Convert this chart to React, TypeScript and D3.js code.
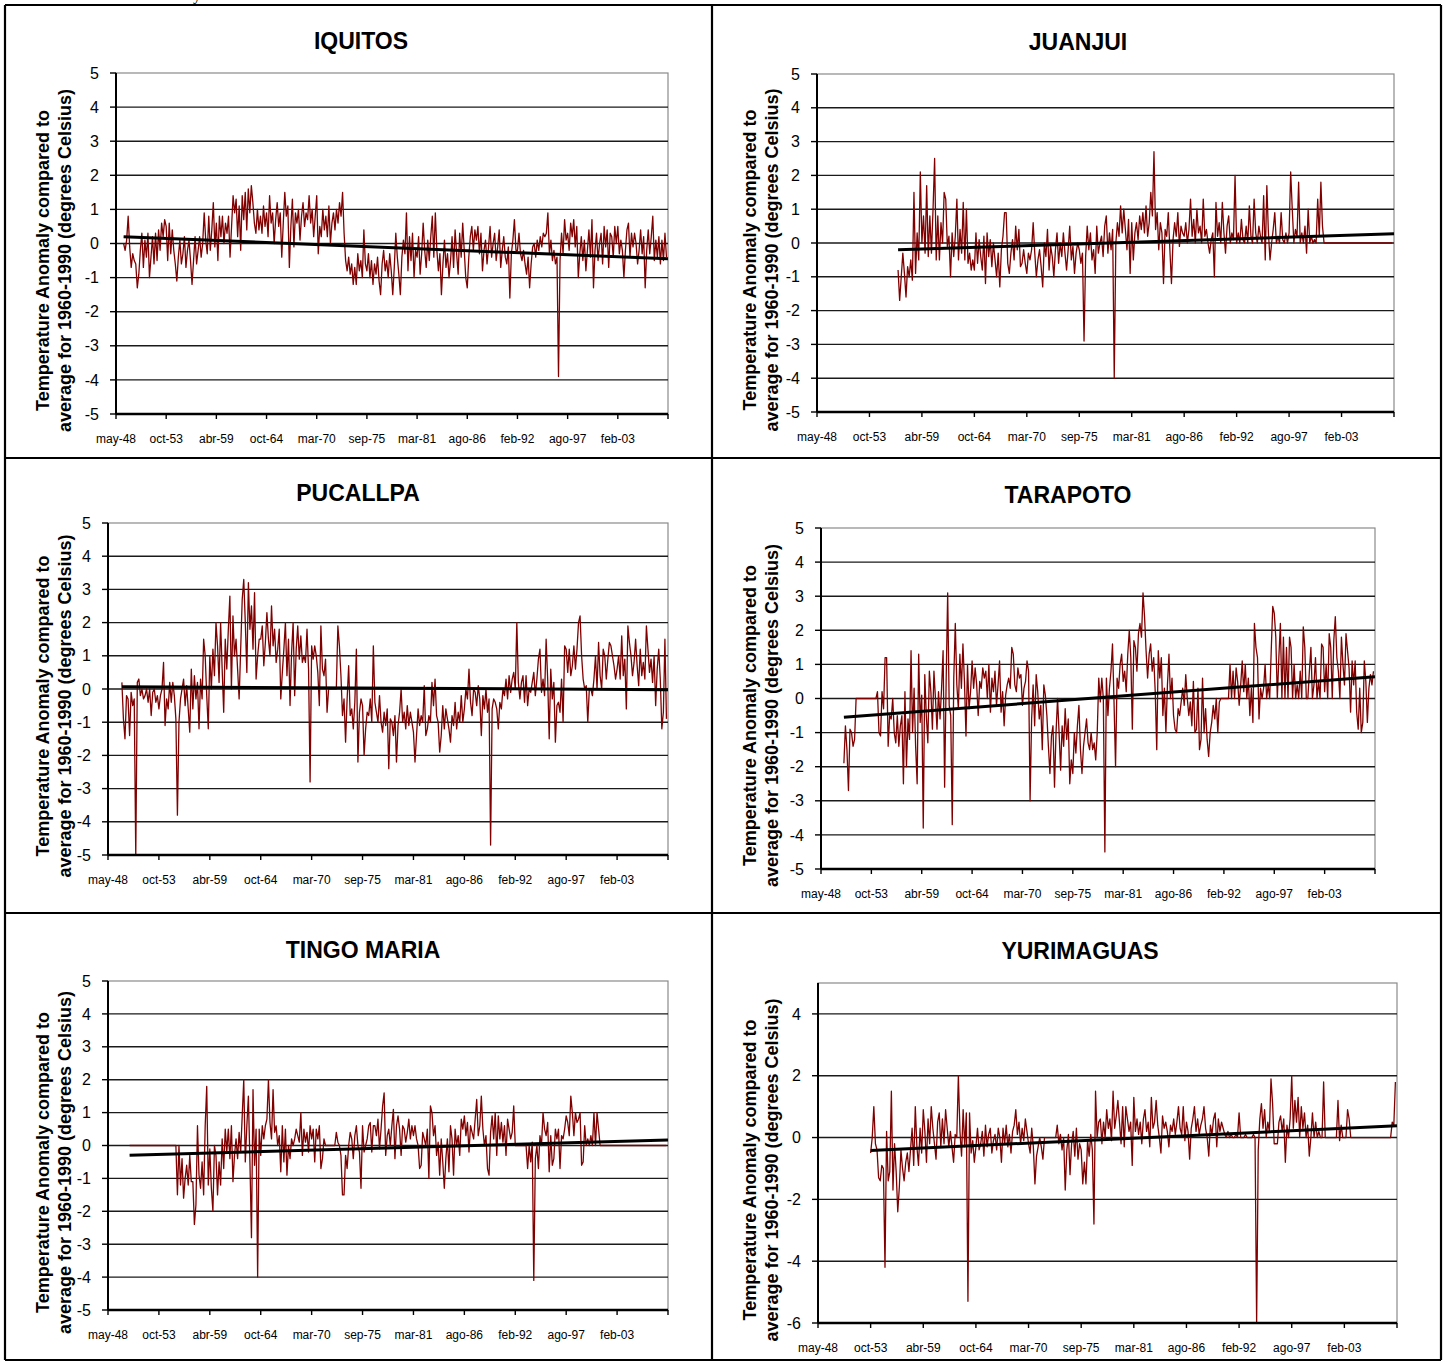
import React from "react";
import * as d3 from "d3";

// category axis: one tick every 66 monthly categories, 11 intervals
const xTickLabels = ["may-48", "oct-53", "abr-59", "oct-64", "mar-70", "sep-75", "mar-81", "ago-86", "feb-92", "ago-97", "feb-03"];
const MONTHS_PER_TICK = 66;
const TOTAL_MONTHS = 726;
const STEP = 2; // values read every second month

const yTicksFull = [-5, -4, -3, -2, -1, 0, 1, 2, 3, 4, 5];
const yTicksYuri = [-6, -4, -2, 0, 2, 4];

// IQUITOS
const iquitosStart = 10;
const iquitosValues = [
  0.0, -0.2, 0.1, 0.8, -0.1, -0.7, -0.3, -0.5, -0.6, -1.3, -0.9, -0.2, 0.3, -0.7, 0.1, -0.4, 0.3, -1.0, -0.4, 0.2, -0.6, 0.3, -0.5, 0.4, -0.2, 0.6, 0.2, 0.7,
  0.5, -0.5, 0.6, -0.3, 0.4, -0.2, -0.6, -1.1, -0.4, 0.1, -0.6, -0.3, 0.2, -0.7, -0.2, 0.1, -0.5, -1.2, -0.5, 0.2, -0.6, -0.2, 0.2, -0.4, 0.0, 0.9, 0.1, -0.3, 0.8, -0.2, 0.4, 1.2, -0.1,
  0.6, -0.5, 0.8, 0.2, 0.8, 0.0, 0.6, 0.3, 0.8, -0.4, 0.5, 1.4, 0.9, 1.3, 0.2, 1.1, -0.2, 1.4, 0.7, 1.5, 0.4, 1.6, 0.9, 1.7, 1.2, 0.6, 0.3, 1.0, 0.4, 0.8, 0.3, 1.1, 0.5,
  0.9, 0.2, 1.4, 0.6, 0.9, 0.0, 0.7, 1.2, 0.5, 0.9, -0.4, 0.6, 1.5, 0.8, 1.1, -0.7, 0.5, 1.3, -0.1, 0.9, 0.6, 1.0, 0.1, 0.8, 1.2, 0.5, 0.9, 0.7, 1.4, 0.6, 1.0, 0.2, 0.8,
  1.4, -0.3, 0.5, 0.2, 1.0, 0.4, 0.8, 0.2, 1.1, 0.0, 0.6, 0.9, 0.4, 1.0, 0.6, 1.2, 0.8, 1.5, 0.3, -0.5, -0.8, -0.4, -0.9, -0.6, -1.2, -0.7, -1.2, -0.3, -0.8, -0.5, -1.0, 0.4, -0.6,
  -0.8, -0.3, -1.0, -0.5, -1.2, -0.6, -0.9, -0.4, -1.1, -1.5, -0.6, -0.2, -0.8, -0.5, -1.0, -0.3, -0.8, -1.5, -0.7, 0.3, -0.4, -0.9, -1.5, -0.4, 0.1, -0.3, 0.9, -0.8, 0.2, -0.5, 0.3, -1.0, -0.2,
  -0.4, 0.2, -0.9, -0.3, 0.6, -0.2, -0.7, 0.1, -0.5, 0.2, 0.8, -0.4, 0.9, -0.2, -0.8, -0.3, -1.5, -0.6, 0.1, -0.7, -0.3, -1.0, -0.5, 0.2, -0.7, 0.4, -0.3, -0.9, 0.3, -0.4, 0.6, -0.2, -1.0,
  -1.3, -0.4, 0.2, 0.5, -0.2, 0.4, 0.1, 0.5, -0.3, 0.3, -0.8, -0.2, 0.1, -0.6, -0.1, 0.5, -0.4, 0.0, 0.3, -0.5, -0.1, 0.4, -0.7, -0.2, 0.2, -0.4, -0.6, -0.1, -1.6, -0.3, 0.1, 0.7, -0.2,
  -0.2, 0.3, -0.3, -0.5, -0.2, -0.6, -0.9, -0.4, -1.3, -0.6, -0.1, 0.0, -0.4, 0.1, -0.2, 0.2, -0.1, 0.3, 0.2, 0.3, 0.9, -0.3, 0.1, -0.5, -0.2, -0.6, -0.4, -3.9, -0.5, 0.3, -0.3, 0.7, 0.1,
  0.3, -0.2, 0.6, 0.2, 0.7, -0.1, 0.5, -1.0, -0.3, 0.2, -0.5, 0.1, -0.8, -0.2, 0.4, -0.4, 0.7, -1.3, -0.2, 0.3, -0.5, 0.0, 0.3, -0.6, 0.5, -0.1, 0.4, -0.7, 0.3, 0.2, -0.4, 0.5, 0.0,
  0.5, -0.3, 0.1, -0.2, -1.0, -0.2, 0.4, 0.6, -0.4, 0.3, -0.1, 0.3, 0.0, -0.6, -0.2, 0.4, -0.3, 0.2, -1.3, -0.2, 0.4, -0.3, 0.2, 0.8, -0.5, 0.1, -0.4, 0.2, -0.6, 0.1, -0.5, 0.3, -0.4,
];
const iquitosTrend = [0.2, -0.45];

// JUANJUI
const juanjuiStart = 102;
const juanjuiValues = [
  -0.8, -1.7, -1.0, -0.3, -0.9, -1.6, -0.7, -1.0, -0.5, -1.1, 1.5, -0.9, 0.3, -0.5, 2.1,
  0.0, 0.8, -0.3, 1.7, -0.4, 0.8, -0.3, 1.0, 2.5, -0.5, 0.8, -0.5, 0.6, 0.0, 1.5, 1.3, -0.1, 0.2, -1.0, 0.3, -0.4, 0.2, 1.3, -0.5, 0.4, -0.3, 1.2, -0.5, 1.0, -0.6, -0.3, -0.8, -0.5,
  -0.8, 0.3, -0.6, 0.1, -0.4, -0.8, 0.2, -1.2, 0.3, -0.4, 0.1, -0.7, 0.0, -0.5, -1.0, -0.3, -1.3, -0.2, 0.2, 0.9, 0.9, -0.6, -0.9, -0.3, 0.1, -0.5, 0.5, -0.2, 0.4, -0.7, -0.6, -0.2, -0.6,
  -0.9, -0.3, -0.5, -0.2, 0.6, -0.3, -1.0, -0.5, -0.2, -0.7, -1.3, 0.0, -0.4, 0.4, -0.8, -0.1, -0.4, -1.0, -0.2, 0.3, -0.6, 0.0, -0.4, 0.3, -0.3, -0.8, -0.2, 0.5, -0.5, -0.1, -0.9, -0.3, 0.0,
  -0.2, -0.6, -0.3, -2.9, -0.4, 0.5, -0.2, 0.3, -0.5, -0.2, -0.9, 0.5, -0.3, 0.0, 0.2, -0.4, 0.5, 0.8, -0.3, 0.3, -0.2, 0.4, -4.0, 0.0, 0.6, 0.2, 1.1, 0.3, 1.0, 0.4, -0.2, 0.7, -0.9,
  0.6, -0.5, 0.3, 0.6, 0.1, 0.8, 0.4, 0.9, 0.3, 1.1, 0.2, 0.6, 1.5, 0.8, 2.7, 0.4, 0.9, -0.2, 0.6, 0.3, -1.2, 0.4, 0.2, 0.9, -0.2, -1.2, 0.1, 0.6, 0.2, 0.9, -0.1, 0.5, 0.3,
  0.2, 0.6, 0.0, 0.4, 1.3, 0.2, 0.7, 0.0, 1.0, 0.3, 0.5, 0.0, 1.3, 0.2, 0.4, 0.0, -0.3, 0.1, 0.3, -1.0, 1.2, 0.2, 0.6, 0.0, 1.2, 0.3, -0.3, 0.5, 0.8, 0.0, 0.3, 0.1, 2.0,
  0.0, 0.3, 0.0, 0.7, 0.1, 0.0, 0.5, 0.0, 1.1, 0.2, 0.0, 1.3, 0.3, 0.0, 0.5, 0.2, 0.0, 1.4, -0.5, 1.7, 0.3, -0.5, 0.0, 0.4, 0.9, 0.0, 0.2, 0.0, 0.9, 0.1, 0.0, 0.3, 0.0,
  0.3, 2.1, 1.0, 0.0, 0.4, 0.2, 1.8, 0.0, 0.3, 0.0, 0.5, -0.3, 1.0, 0.0, 0.2, 0.0, 0.1, 0.0, 1.3, 0.2, 1.8, 0.5, 0.0, 0, 0, 0, 0, 0, 0, 0, 0, 0, 0,
  0, 0, 0, 0, 0, 0, 0, 0, 0, 0, 0, 0, 0, 0, 0, 0, 0, 0, 0, 0, 0, 0, 0, 0, 0, 0, 0, 0, 0, 0, 0, 0, 0,
];
const juanjuiTrend = [-0.2, 0.27];

// PUCALLPA
const pucallpaStart = 18;
const pucallpaValues = [
  0.2, -0.9, -1.5, -0.2, -0.3, -1.4, -0.1, -0.5, -0.3, -5.0, 0.2, 0.3, -0.2, 0.0, -0.3, -0.2, 0.0, -0.4, 0.0, -0.8, -0.1, 0.0, -0.4, -0.2,
  -0.6, -0.2, 0.0, 0.8, -1.1, -0.3, -0.6, 0.2, -0.4, 0.2, -0.2, -0.9, -3.8, -1.0, -0.3, 0.0, 0.3, -0.5, 0.1, -0.6, -1.3, 0.6, -0.6, 0.4, -0.3, 0.2, -1.2, 0.3, -0.3, 1.5, 1.0, -0.2, -1.2,
  1.0, 0.0, 1.2, 0.4, 2.0, 1.3, 0.2, 2.0, 0.6, -0.7, 1.5, 0.6, 1.8, 2.8, 0.0, 2.2, 1.0, 1.5, 0.6, -0.3, 1.2, 2.7, 3.3, 2.0, 0.5, 3.2, 1.8, 2.5, 1.2, 2.9, 0.3, 1.0, 1.5,
  1.5, 1.9, 0.7, 1.4, 2.3, 1.5, 1.0, 2.5, 1.3, 1.8, 0.8, 1.2, 1.8, -0.3, 0.5, 1.2, 2.0, 0.4, 1.5, -0.5, 1.1, 2.0, -0.2, 1.2, 1.9, 0.9, 1.6, 0.8, 1.0, 0.8, 1.8, 0.6, -2.8,
  1.3, 0.9, 1.3, 1.0, 0.5, -0.5, 1.9, 0.6, 0.4, 0.9, -0.7, 0.0, 0.0, 0.0, 0.0, 0.0, 0.0, 1.9, 1.3, 0.4, -0.8, -0.3, -1.6, -0.3, 0.7, -0.8, -0.6, -1.2, -0.4, 1.2, -2.2, -0.7, -0.3,
  -0.5, -2.0, -1.2, -0.7, -0.8, -0.3, -1.0, 1.3, -0.4, -0.7, -1.0, -0.2, -1.0, -1.3, -0.7, -1.1, -0.6, -2.4, -0.9, -1.0, -1.4, -0.8, -2.2, -1.1, -0.7, 0.0, -1.0, -0.7, -1.2, -0.5, -1.1, -0.7, -1.0,
  -1.3, -2.2, -1.4, -0.6, -1.1, -0.8, -1.0, 0.1, -1.4, -1.2, -0.8, -1.0, 0.2, -0.5, 0.3, -0.8, -1.0, -1.9, -1.4, -0.5, -1.2, -0.6, -0.9, -1.2, -1.6, -0.8, -1.1, -0.4, -1.2, -0.7, -1.0, -0.2, -1.0,
  -0.6, 0.0, -0.3, 0.6, -0.4, -0.8, 0.0, -0.1, -0.5, 0.1, -0.3, -1.4, -0.2, -0.6, 0.0, -0.7, -0.3, -4.7, -0.6, -0.3, -0.4, -0.6, -1.2, -0.4, -0.6, 0.0, -0.2, 0.3, -0.3, 0.4, -0.1, 0.3, 0.5,
  0.0, 2.0, 0.2, -0.3, 0.2, 0.4, -0.4, 0.4, -0.5, 0.0, -0.1, 0.2, 0.5, -0.2, 0.3, 0.9, 1.2, -0.1, 0.3, -0.2, 1.5, 0.3, -1.5, 0.6, -0.3, 0.2, -1.6, -0.5, -0.4, -0.7, 0.3, -1.0, 1.3,
  1.2, 0.5, 1.2, 0.4, 0.7, 1.3, 0.6, 1.2, 2.0, 2.2, 1.0, 0.3, 0.0, 0.1, -1.0, 0.0, 0.0, -0.2, 0.3, 1.0, 0.0, 1.4, 0.4, 0.0, 1.2, 1.0, 0.3, 0.9, 1.4, 1.3, 1.0, 0.7, 0.3,
  0.6, 1.0, 0.3, 1.6, 0.4, 0.9, -0.6, 1.9, 1.4, 1.0, 0.4, 0.8, 1.5, 0.7, 0.1, 1.2, 0.4, 0.8, 0.3, 1.9, 1.2, 0.5, 0.9, 0.2, 1.0, -0.5, 0.6, 1.2, 0.3, -1.2, -0.7, 1.5, -0.9,
];
const pucallpaTrend = [0.07, -0.02];

// TARAPOTO
const tarapotoStart = 30;
const tarapotoValues = [
  -1.9, -0.8, -1.5, -2.7, -0.9, -1.0, -1.4, -1.2, 0.0, 0.0, 0.0, 0.0, 0.0, 0.0, 0.0, 0.0, 0.0, 0.0,
  0.0, 0.0, 0.0, 0.0, 0.2, -1.0, -1.1, 0.2, -0.3, 1.2, 1.2, -1.4, -0.5, -0.6, 0.0, -1.0, -1.3, -0.5, -1.4, -0.8, -0.5, -2.5, 0.2, -2.0, -0.6, -1.2, 1.4, -1.0, 0.3, -1.4, -2.5, 1.3, -0.7,
  0.1, -3.8, 0.7, -0.5, -1.3, 0.8, 0.2, -0.9, 0.8, 0.0, -0.9, 0.2, -0.6, 0.3, 1.4, -2.6, 0.5, 3.1, -0.2, -0.5, -3.7, 0.6, 2.2, 0.4, -0.3, 1.3, 0.3, 1.6, 0.5, -1.1, 1.0, -0.3, 0.2,
  1.1, 0.3, 0.9, 0.4, -0.5, 0.5, 0.3, 0.9, 0.6, 0.8, 0.0, 1.0, -0.4, 0.6, 0.2, 0.8, -0.2, 0.4, 1.1, -0.4, 0.2, -0.8, 0.1, 0.4, 0.6, 0.3, 1.5, 1.3, 0.4, 0.2, 0.9, 0.6, 0.7,
  -0.2, 0.3, 0.5, 1.1, 0.8, -3.0, -0.6, 0.4, -0.8, 0.7, 0.2, -0.6, -0.2, -1.5, 0.4, 0.1, -0.5, -1.4, -2.2, -1.1, -0.8, -2.6, -1.0, 0.0, -1.0, -2.1, -0.8, -1.4, -0.3, -1.2, -0.6, -2.5, -1.8,
  -2.2, -1.0, -1.6, -0.8, -0.2, -1.5, -2.2, -1.4, -1.0, -0.6, -1.3, -1.5, -1.0, -1.5, -1.3, -1.8, -1.0, 0.6, -0.1, 0.6, 0.0, -4.5, 0.6, -0.5, 0.3, 0.8, 1.6, -0.1, -2.0, 0.6, 0.3, 1.0, 1.3,
  0.5, 0.8, 0.2, 1.3, 2.0, 1.2, -0.9, 1.7, 1.5, 0.8, 1.9, 2.2, 1.8, 3.1, 2.4, 1.4, 0.6, 1.3, 1.6, 0.8, 1.2, 0.2, -1.5, 1.4, 0.6, 1.2, -0.5, 0.3, -1.0, 0.4, 1.3, 0.0, 0.6,
  -0.5, -0.9, -1.0, -0.3, -0.5, -0.1, 0.3, -0.2, 0.7, 0.0, -0.5, -0.1, -0.8, 0.5, -1.0, -0.9, 0.3, -1.5, -1.2, 0.6, -1.0, -0.3, -1.2, -1.7, -1.0, -0.7, -0.2, -0.6, 0.0, -1.0, -0.1, 0.0, 0.0,
  0.0, 0.0, 0.0, 0.0, 1.0, 0.0, 0.8, 0.0, 0.9, 0.5, -0.2, 0.4, 1.1, 0.2, 1.0, 0.0, 0.6, -0.5, 0.3, -0.7, 2.2, 1.5, 1.2, -0.6, 0.3, 0.0, 0.3, 1.0, 0.0, 0.4, 0.0, 1.4, 2.7,
  2.5, 1.8, 0.0, 1.2, 2.2, 0.0, 1.8, 0.0, 1.5, 0.0, 1.8, 1.5, 0.0, 1.0, 0.0, 0.4, 0.0, 0.8, 0.0, 2.1, 1.5, 0.0, 0.0, 0.8, 1.5, 0.0, 0.4, 1.2, 0.0, 0.5, 0.0, 1.6, 1.5,
  0.2, 1.0, 0.0, 1.9, 1.5, 0.0, 1.7, 2.4, 1.2, 0.8, 0.0, 1.8, 1.0, 0.4, 1.9, 1.4, 0.9, -0.4, 1.1, 0.4, 1.1, -0.4, -0.9, 0.3, -1.0, -0.7, 1.1, 0.5, -0.7, 0.3, 0.7, 0.4, 0.8,
];
const tarapotoTrend = [-0.55, 0.64];

// TINGO MARIA
const tingoStart = 28;
const tingoValues = [
  0, 0, 0, 0, 0, 0, 0, 0, 0, 0, 0, 0, 0, 0, 0, 0, 0, 0, 0,
  0, 0, 0, 0, 0, 0, 0, 0, 0, 0, 0, 0, -1.5, 0.0, -1.2, -0.4, -1.6, -1.0, -0.6, -1.2, -0.3, -1.1, -1.1, -2.4, -1.8, 0.6, -0.9, -1.3, -0.5, -1.5, 0.6, 1.8, -1.2,
  -0.1, -1.3, -2.0, 0.0, -0.3, -1.5, -0.5, -1.2, 0.2, -0.7, 0.5, -0.2, 0.5, -0.4, 0.6, -1.1, -0.3, 0.2, -0.4, 0.4, -0.2, 0.9, 2.0, -0.5, 0.6, 1.5, -0.5, -2.8, 1.7, -0.6, 0.5, -4.0, 0.5,
  -0.3, 0.6, 0.2, 0.6, 0.8, 2.0, 0.7, 0.2, 1.7, 0.4, 0.6, 0.0, 0.3, -0.8, 0.6, -0.5, 0.5, -0.9, 0.0, -0.4, 0.2, 0.0, 0.2, 0.5, 0.3, 0.1, 1.0, -0.3, 0.5, 0.1, 0.4, -0.2, 0.6,
  0.2, 0.5, -0.5, 0.5, 0.2, 0.6, -0.7, -0.4, 0.2, 0.0, 0.0, 0.0, 0.0, 0.0, 0.0, 0.0, 0.4, 0.1, 0.0, -0.3, -1.5, -1.5, -0.3, -0.7, 0.0, 0.4, 0.2, -0.4, 0.3, 0.6, 0.0, -0.2, -1.3,
  0.6, -0.2, 0.0, 0.2, 0.6, 0.7, -0.2, 0.6, 0.6, 0.3, 0.8, -0.1, 0.5, 1.2, 1.6, -0.3, 0.3, 0.5, 0.0, 0.6, 1.1, -0.4, 0.6, 0.9, 0.5, -0.3, 0.6, 0.5, 0.1, 0.4, 0.8, 0.2, 0.6,
  0.3, 0.6, 0.2, 0.0, -0.7, -0.6, 0.4, 0.2, 0.0, 0.5, -1.0, 1.2, 1.0, 0.3, 0.6, -0.3, 0.1, -0.9, 0.2, -0.5, -1.3, -0.4, 0.2, -0.8, 0.6, 0.2, -0.9, 0.5, 0.0, 0.3, -0.3, 0.8, 0.5,
  0.9, 0.3, 0.7, -0.2, 0.6, 0.4, 0.2, 0.8, 1.4, 0.3, 0.6, 1.5, 0.5, 0.0, 0.3, -0.7, -0.9, 0.4, 0.9, 0.2, 1.0, -0.3, 0.9, 0.2, 0.7, 0.1, 0.6, -0.3, 0.8, 0.5, 0.2, 0.4, 1.2,
  0.0, 0.0, 0.0, 0.0, 0.0, 0.0, 0.0, 0.0, -0.7, 0.0, -0.5, 0.1, -4.1, -0.4, 0.0, -0.7, 0.3, 0.0, 1.0, 0.5, 0.3, 0.7, -0.8, 0.3, -0.6, -0.4, 0.5, 0.2, 0.5, -0.7, 0.3, 0.2, 0.5,
  0.9, 0.7, 0.3, 1.5, 1.0, 0.3, 1.0, 0.7, 0.8, 1.0, -0.6, -0.5, 0.6, 0.0, 0.2, 0.0, 0.3, 0.0, 1.0, 0.0, 1.0, 0.5, 0.0, 0, 0, 0, 0, 0, 0, 0, 0, 0, 0,
  0, 0, 0, 0, 0, 0, 0, 0, 0, 0, 0, 0, 0, 0, 0, 0, 0, 0, 0, 0, 0, 0, 0, 0, 0, 0, 0, 0, 0, 0, 0, 0, 0,
];
const tingoTrend = [-0.3, 0.17];

// YURIMAGUAS
const yurimaguasStart = 66;
const yurimaguasValues = [
  -0.5, 0.0, 1.0, -0.2, -0.4, -1.3, -1.4, -0.9, -1.0, -4.2, 0.2, -1.4, -1.1, 1.5, -1.7, -0.2, -1.1, -2.4, -1.6, -0.4, -1.0, -1.4, -0.8, -0.5, -1.1, -0.4, 0.3, -0.9, 1.0, -0.3, -0.9, 0.3, -0.5,
  0.9, 0.2, -0.8, 0.6, -0.2, 1.0, 0.3, -0.2, -0.7, 0.5, 0.8, -0.3, 0.6, -0.2, 0.9, 0.3, -0.3, 0.2, -0.3, -0.8, 0.1, 0.0, 2.0, 0.2, -0.6, 0.9, -0.3, 0.8, -5.3, 0.8, -0.5, -0.1, -0.8,
  -0.3, 0.3, -0.4, -0.2, 0.2, -0.6, 0.4, -0.3, 0.1, 0.3, -0.5, -0.1, 0.1, -0.4, 0.3, 0.0, -0.8, 0.3, -0.2, 0.4, -0.3, 0.1, -0.5, 0.2, 0.4, 0.9, 0.1, 0.5, -0.2, 0.3, -0.1, 0.6, 0.2,
  -0.2, -0.5, 0.3, -0.3, -1.5, -0.6, -0.3, 0.0, -0.3, -0.7, 0.0, 0.0, 0.0, 0.0, 0.0, 0.0, 0.0, 0.0, 0.4, -0.2, 0.1, -0.4, 0.0, -1.7, -0.4, 0.1, -1.2, -0.2, 0.2, -0.6, 0.3, -0.7, -0.2,
  -0.4, -1.5, -0.8, -1.5, -0.1, -0.6, 0.1, -0.4, -2.8, 1.5, 0.0, 0.5, 0.6, -0.2, 0.5, 0.0, 0.9, 0.3, 0.6, -0.1, 1.5, 0.3, 0.7, 1.2, 0.5, -0.2, 1.0, -0.3, 1.0, 0.6, 0.2, 0.5, -0.9,
  1.3, 0.2, 0.6, 0.1, 0.5, -0.2, 0.6, 0.9, 0.2, 0.5, -0.3, 1.3, 0.3, 0.5, 1.2, 0.4, 0.0, -0.5, 0.7, 0.3, 0.5, 0.2, -0.3, 0.4, 0.2, 0.6, 0.1, 0.5, 1.0, 0.3, 0.1, 1.0, -0.1,
  0.5, 0.2, -0.7, 0.3, 0.6, 1.0, 0.2, 0.6, 0.1, 0.4, 0.6, 1.0, 0.3, 0.0, -0.6, 0.4, 0.1, 0.6, 0.8, -0.3, 0.6, 0.2, 0.5, 0.3, 0.1, 0.0, 0.2, 0.0, 0.1, 0.0, 0.0, 0.1, 0.0,
  0.8, 0.0, 0.0, 0.0, 0.1, 0.0, 0.0, 0.0, 0.0, 0.1, 0.0, -6.0, -0.4, 0.6, 1.1, 0.3, 0.9, 0.0, 0.5, 0.2, 1.9, 1.1, -0.2, -0.2, -0.2, 0.5, 0.7, 0.2, 0.6, -0.8, 0.4, 0.0, 0.6,
  2.0, 0.3, 1.2, 0.5, 1.3, 0.0, 1.0, 0.3, 0.8, 0.0, 0.4, -0.6, 0.0, 0.8, 0.0, 0.5, 0.0, 0.2, 0.0, 0.0, 1.8, 0.0, 0.0, 0.0, 0.0, 0.0, 0.0, 0.0, 0.0, 1.2, -0.1, 0.4, 0.0,
  0.0, 0.0, 0.9, 0.6, 0.0, 0, 0, 0, 0, 0, 0, 0, 0, 0, 0, 0, 0, 0, 0, 0, 0, 0, 0, 0, 0, 0, 0, 0, 0, 0, 0.5, 0.4, 1.8,
];
const yurimaguasTrend = [-0.42, 0.38];

// where each chart sits on the page
const layouts = [
  { left: 116, top: 73, right: 668, bottom: 414, titleX: 361, titleY: 41, axisX: 43 },
  { left: 817, top: 74, right: 1394, bottom: 412, titleX: 1078, titleY: 42, axisX: 750 },
  { left: 108, top: 523, right: 668, bottom: 855, titleX: 358, titleY: 493, axisX: 43 },
  { left: 821, top: 528, right: 1375, bottom: 869, titleX: 1068, titleY: 495, axisX: 750 },
  { left: 108, top: 981, right: 668, bottom: 1310, titleX: 363, titleY: 950, axisX: 43 },
  { left: 818, top: 983, right: 1397, bottom: 1323, titleX: 1080, titleY: 951, axisX: 750 },
];

const stations = [
  { name: "IQUITOS", start: iquitosStart, values: iquitosValues, trend: iquitosTrend, yDomain: [-5, 5], yTicks: yTicksFull },
  { name: "JUANJUI", start: juanjuiStart, values: juanjuiValues, trend: juanjuiTrend, yDomain: [-5, 5], yTicks: yTicksFull },
  { name: "PUCALLPA", start: pucallpaStart, values: pucallpaValues, trend: pucallpaTrend, yDomain: [-5, 5], yTicks: yTicksFull },
  { name: "TARAPOTO", start: tarapotoStart, values: tarapotoValues, trend: tarapotoTrend, yDomain: [-5, 5], yTicks: yTicksFull },
  { name: "TINGO MARIA", start: tingoStart, values: tingoValues, trend: tingoTrend, yDomain: [-5, 5], yTicks: yTicksFull },
  { name: "YURIMAGUAS", start: yurimaguasStart, values: yurimaguasValues, trend: yurimaguasTrend, yDomain: [-6, 5], yTicks: yTicksYuri },
];

const FONT = "'Liberation Sans', Arial, Helvetica, sans-serif";

const Panel = ({ station, box }) => {
  const x = d3.scaleLinear().domain([0, TOTAL_MONTHS]).range([box.left, box.right]);
  const y = d3.scaleLinear().domain(station.yDomain).range([box.bottom, box.top]);

  const seriesLine = d3
    .line()
    .x((d, i) => x(station.start + i * STEP))
    .y((d) => y(d));

  const trendLine = d3
    .line()
    .x((d) => x(d[0]))
    .y((d) => y(d[1]));
  const trendPoints = [
    [station.start, station.trend[0]],
    [TOTAL_MONTHS, station.trend[1]],
  ];

  const xTicks = d3.range(0, TOTAL_MONTHS + 1, MONTHS_PER_TICK);
  const gridValues = station.yTicks.filter((t) => t > station.yDomain[0] && t < station.yDomain[1]);
  const axisY = (box.top + box.bottom) / 2 + 17;

  return (
    <g>
      <text x={box.titleX} y={box.titleY} dy="0.35em" textAnchor="middle" fontFamily={FONT} fontWeight="bold" fontSize={23}>
        {station.name}
      </text>

      <rect x={box.left} y={box.top} width={box.right - box.left} height={box.bottom - box.top} fill="#fff" stroke="#8a8a8a" strokeWidth={1.2} />

      {gridValues.map((t) => (
        <line key={"g" + t} x1={box.left} x2={box.right} y1={y(t)} y2={y(t)} stroke="#1a1a1a" strokeWidth={1.4} />
      ))}

      <path d={seriesLine(station.values)} fill="none" stroke="#800000" strokeWidth={1.3} strokeLinejoin="round" />
      <path d={trendLine(trendPoints)} fill="none" stroke="#000" strokeWidth={3} />

      {/* y axis */}
      <line x1={box.left} x2={box.left} y1={box.top} y2={box.bottom} stroke="#000" strokeWidth={2} />
      {station.yTicks.map((t) => (
        <g key={"y" + t}>
          <line x1={box.left - 6} x2={box.left} y1={y(t)} y2={y(t)} stroke="#000" strokeWidth={1.4} />
          <text x={box.left - 17} y={y(t)} dy="0.35em" textAnchor="end" fontFamily={FONT} fontSize={16}>
            {t}
          </text>
        </g>
      ))}

      {/* category axis */}
      <line x1={box.left} x2={box.right} y1={box.bottom} y2={box.bottom} stroke="#000" strokeWidth={2.6} />
      {xTicks.map((t) => (
        <line key={"xt" + t} x1={x(t)} x2={x(t)} y1={box.bottom} y2={box.bottom + 5} stroke="#000" strokeWidth={1.4} />
      ))}
      {xTickLabels.map((lab, i) => (
        <text key={lab} x={x(i * MONTHS_PER_TICK)} y={box.bottom + 25} dy="0.35em" textAnchor="middle" fontFamily={FONT} fontSize={12}>
          {lab}
        </text>
      ))}

      <g transform={`translate(${box.axisX},${axisY}) rotate(-90)`} fontFamily={FONT} fontWeight="bold" fontSize={18} textAnchor="middle">
        <text y={0} dy="0.35em">Temperature Anomaly compared to</text>
        <text y={22} dy="0.35em">average for 1960-1990 (degrees Celsius)</text>
      </g>
    </g>
  );
};

const App = () => {
  const width = 1448;
  const height = 1363;
  return (
    <svg width={width} height={height} style={{ position: "absolute", left: 0, top: 0, background: "#fff" }}>
      <rect x={0} y={0} width={width} height={height} fill="#fff" />
      <text x={193} y={0} fontFamily="'Liberation Serif', serif" fontSize={16}>
        y
      </text>
      {stations.map((s, i) => (
        <Panel key={s.name} station={s} box={layouts[i]} />
      ))}
      {/* table cell borders */}
      <g stroke="#000" strokeWidth={2.2}>
        <line x1={5} x2={1441} y1={5} y2={5} />
        <line x1={5} x2={1441} y1={458} y2={458} />
        <line x1={5} x2={1441} y1={913} y2={913} />
        <line x1={5} x2={1441} y1={1360} y2={1360} />
        <line x1={5} x2={5} y1={5} y2={1360} />
        <line x1={712} x2={712} y1={5} y2={1360} />
        <line x1={1441} x2={1441} y1={5} y2={1360} />
      </g>
    </svg>
  );
};

export default App;
